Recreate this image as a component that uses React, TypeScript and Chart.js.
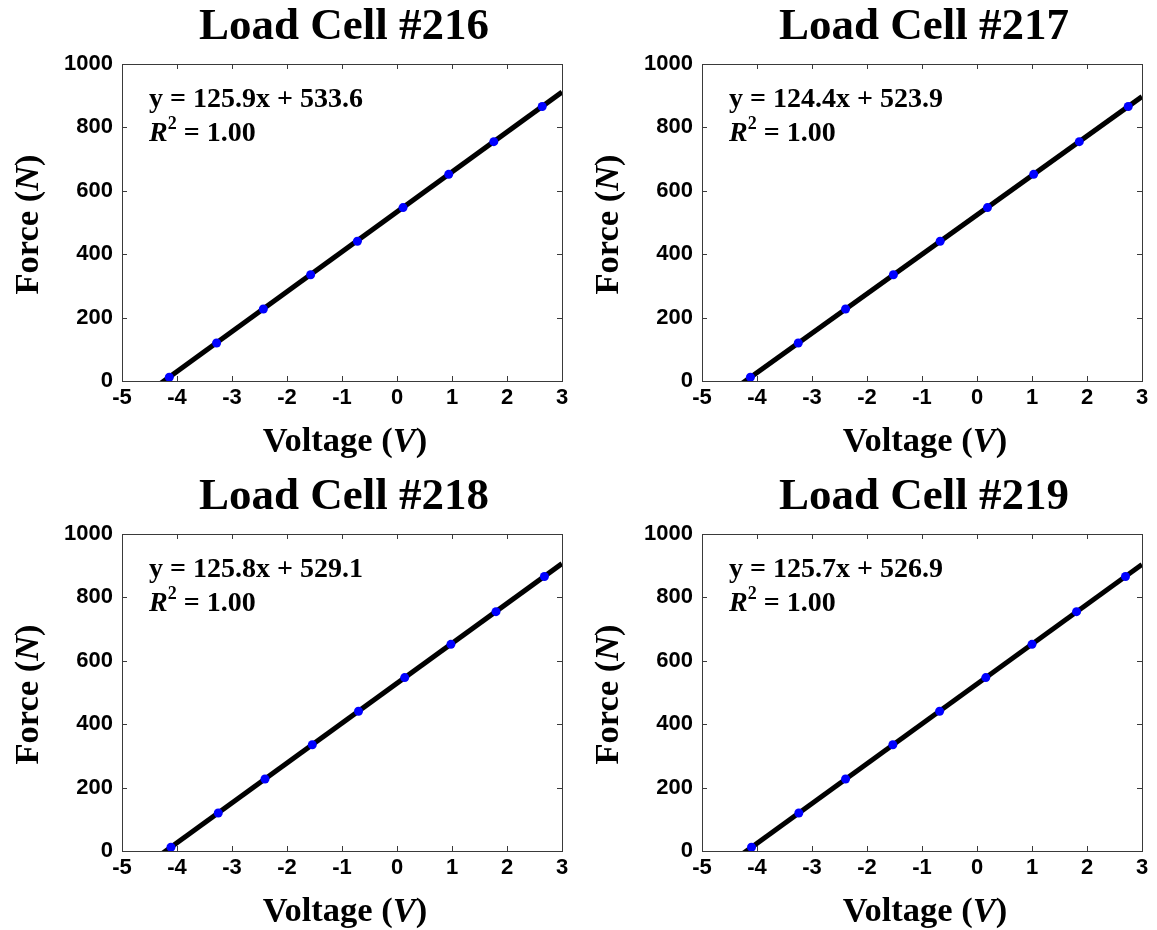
import { useEffect, useRef } from 'react';
import { Chart, registerables } from 'chart.js';

Chart.register(...registerables);

// Calibration results for the four load cells
const cellTitles = ['Load Cell #216', 'Load Cell #217', 'Load Cell #218', 'Load Cell #219'];
const fitSlopes = [125.9, 124.4, 125.8, 125.7];
const fitIntercepts = [533.6, 523.9, 529.1, 526.9];
const fitR2 = ['1.00', '1.00', '1.00', '1.00'];

// Measured output voltage (V) for each applied load
const voltage216 = [-4.14, -3.28, -2.43, -1.57, -0.72, 0.11, 0.94, 1.76, 2.64];
const voltage217 = [-4.12, -3.25, -2.39, -1.52, -0.67, 0.19, 1.03, 1.86, 2.75];
const voltage218 = [-4.11, -3.25, -2.4, -1.54, -0.7, 0.14, 0.98, 1.8, 2.68];
const voltage219 = [-4.1, -3.24, -2.39, -1.53, -0.68, 0.16, 1.0, 1.81, 2.7];

// Applied force (N)
const force216 = [12, 120, 227, 335, 441, 547, 652, 755, 866];
const force217 = [12, 120, 227, 335, 441, 547, 652, 755, 866];
const force218 = [12, 120, 227, 335, 441, 547, 652, 755, 866];
const force219 = [12, 120, 227, 335, 441, 547, 652, 755, 866];

const cellVoltages = [voltage216, voltage217, voltage218, voltage219];
const cellForces = [force216, force217, force218, force219];

// Axis ranges
const voltageRange = [-5, 3];
const forceRange = [0, 1000];
const voltageStep = 1;
const forceStep = 200;

const SERIF = '"Liberation Serif", "Times New Roman", Times, serif';
const SANS = '"Liberation Sans", Arial, Helvetica, sans-serif';

type Run = { text: string; italic?: boolean; size?: number; rise?: number };

function runFont(r: Run, base: number) {
  return `${r.italic ? 'italic ' : ''}bold ${r.size ?? base}px ${SERIF}`;
}

function drawRuns(
  ctx: CanvasRenderingContext2D,
  runs: Run[],
  base: number,
  x: number,
  y: number,
  align: 'left' | 'center'
) {
  ctx.textBaseline = 'alphabetic';
  ctx.textAlign = 'left';
  const widths = runs.map((r) => {
    ctx.font = runFont(r, base);
    return ctx.measureText(r.text).width;
  });
  const total = widths.reduce((a, b) => a + b, 0);
  let cx = align === 'center' ? x - total / 2 : x;
  runs.forEach((r, i) => {
    ctx.font = runFont(r, base);
    ctx.fillText(r.text, cx, y - (r.rise ?? 0));
    cx += widths[i];
  });
}

// Draws the boxed frame with inward ticks, the title, axis titles and the fit annotation
const decorPlugin = {
  id: 'calibDecor',
  afterDraw(chart: any, _args: any, opts: any) {
    const { ctx, chartArea } = chart;
    const { left, right, top, bottom } = chartArea;
    const xs = chart.scales.x;
    const ys = chart.scales.y;
    ctx.save();

    // frame
    ctx.strokeStyle = '#3a3a3a';
    ctx.lineWidth = 1;
    ctx.strokeRect(Math.round(left) + 0.5, Math.round(top) + 0.5, Math.round(right - left), Math.round(bottom - top));

    // inward ticks on all four sides
    const tl = 5;
    ctx.beginPath();
    xs.ticks.forEach((t: any) => {
      const px = Math.round(xs.getPixelForValue(t.value)) + 0.5;
      ctx.moveTo(px, bottom);
      ctx.lineTo(px, bottom - tl);
      ctx.moveTo(px, top);
      ctx.lineTo(px, top + tl);
    });
    ys.ticks.forEach((t: any) => {
      const py = Math.round(ys.getPixelForValue(t.value)) + 0.5;
      ctx.moveTo(left, py);
      ctx.lineTo(left + tl, py);
      ctx.moveTo(right, py);
      ctx.lineTo(right - tl, py);
    });
    ctx.stroke();

    ctx.fillStyle = '#000';
    const cx = (left + right) / 2;
    const cy = (top + bottom) / 2;

    // title
    drawRuns(ctx, [{ text: opts.title }], 45, cx + 2, top - 25, 'center');

    // x axis title
    drawRuns(ctx, [{ text: 'Voltage (' }, { text: 'V', italic: true }, { text: ')' }], 34.5, cx + 3, bottom + 70, 'center');

    // y axis title
    ctx.save();
    ctx.translate(left - 84, cy + 2);
    ctx.rotate(-Math.PI / 2);
    drawRuns(ctx, [{ text: 'Force (' }, { text: 'N', italic: true }, { text: ')' }], 34.5, 0, 0, 'center');
    ctx.restore();

    // fit equation
    drawRuns(ctx, [{ text: opts.equation }], 28, left + 27, top + 43, 'left');
    drawRuns(
      ctx,
      [{ text: 'R', italic: true }, { text: '2', size: 18, rise: 12 }, { text: ' = ' + opts.r2 }],
      28,
      left + 27,
      top + 77,
      'left'
    );
    ctx.restore();
  },
};

function CalibChart({ index }: { index: number }) {
  const ref = useRef<HTMLCanvasElement | null>(null);

  useEffect(() => {
    if (!ref.current) return;
    const m = fitSlopes[index];
    const b = fitIntercepts[index];
    const points = cellVoltages[index].map((v, i) => ({ x: v, y: cellForces[index][i] }));
    const fitLine = voltageRange.map((v) => ({ x: v, y: m * v + b }));

    const chart = new Chart(ref.current, {
      type: 'scatter',
      data: {
        datasets: [
          {
            data: points,
            backgroundColor: '#0000ff',
            borderWidth: 0,
            pointRadius: 4.5,
            order: 0,
          },
          {
            data: fitLine,
            showLine: true,
            borderColor: '#000',
            borderWidth: 5,
            pointRadius: 0,
            clip: 0,
            order: 1,
          } as any,
        ],
      },
      options: {
        responsive: false,
        animation: false,
        devicePixelRatio: 1,
        layout: { padding: { top: 64, right: 18, left: 0, bottom: 0 } },
        plugins: {
          legend: { display: false },
          tooltip: { enabled: false },
          calibDecor: {
            title: cellTitles[index],
            equation: `y = ${m.toFixed(1)}x + ${b.toFixed(1)}`,
            r2: fitR2[index],
          },
        } as any,
        scales: {
          x: {
            type: 'linear',
            min: voltageRange[0],
            max: voltageRange[1],
            grid: { display: false, drawTicks: false },
            border: { display: false },
            ticks: {
              stepSize: voltageStep,
              padding: 4,
              color: '#000',
              font: { family: SANS, size: 22, weight: 'bold' },
              callback: (v: any) => String(v),
            },
            afterFit: (s: any) => {
              s.height = 84;
            },
          },
          y: {
            type: 'linear',
            min: forceRange[0],
            max: forceRange[1],
            grid: { display: false, drawTicks: false },
            border: { display: false },
            ticks: {
              stepSize: forceStep,
              padding: 9,
              color: '#000',
              font: { family: SANS, size: 22, weight: 'bold' },
              callback: (v: any) => String(v),
            },
            afterFit: (s: any) => {
              s.width = 122;
            },
          },
        },
      },
      plugins: [decorPlugin],
    });
    return () => chart.destroy();
  }, [index]);

  const col = index % 2;
  const row = Math.floor(index / 2);
  return (
    <canvas
      ref={ref}
      width={580}
      height={465}
      style={{ position: 'absolute', left: col * 580, top: row * 470, display: 'block' }}
    />
  );
}

export default function App() {
  return (
    <div
      style={{
        position: 'absolute',
        left: 0,
        top: 0,
        width: 1157,
        height: 930,
        background: '#fff',
        overflow: 'hidden',
      }}
    >
      {cellTitles.map((_, i) => (
        <CalibChart key={i} index={i} />
      ))}
    </div>
  );
}
